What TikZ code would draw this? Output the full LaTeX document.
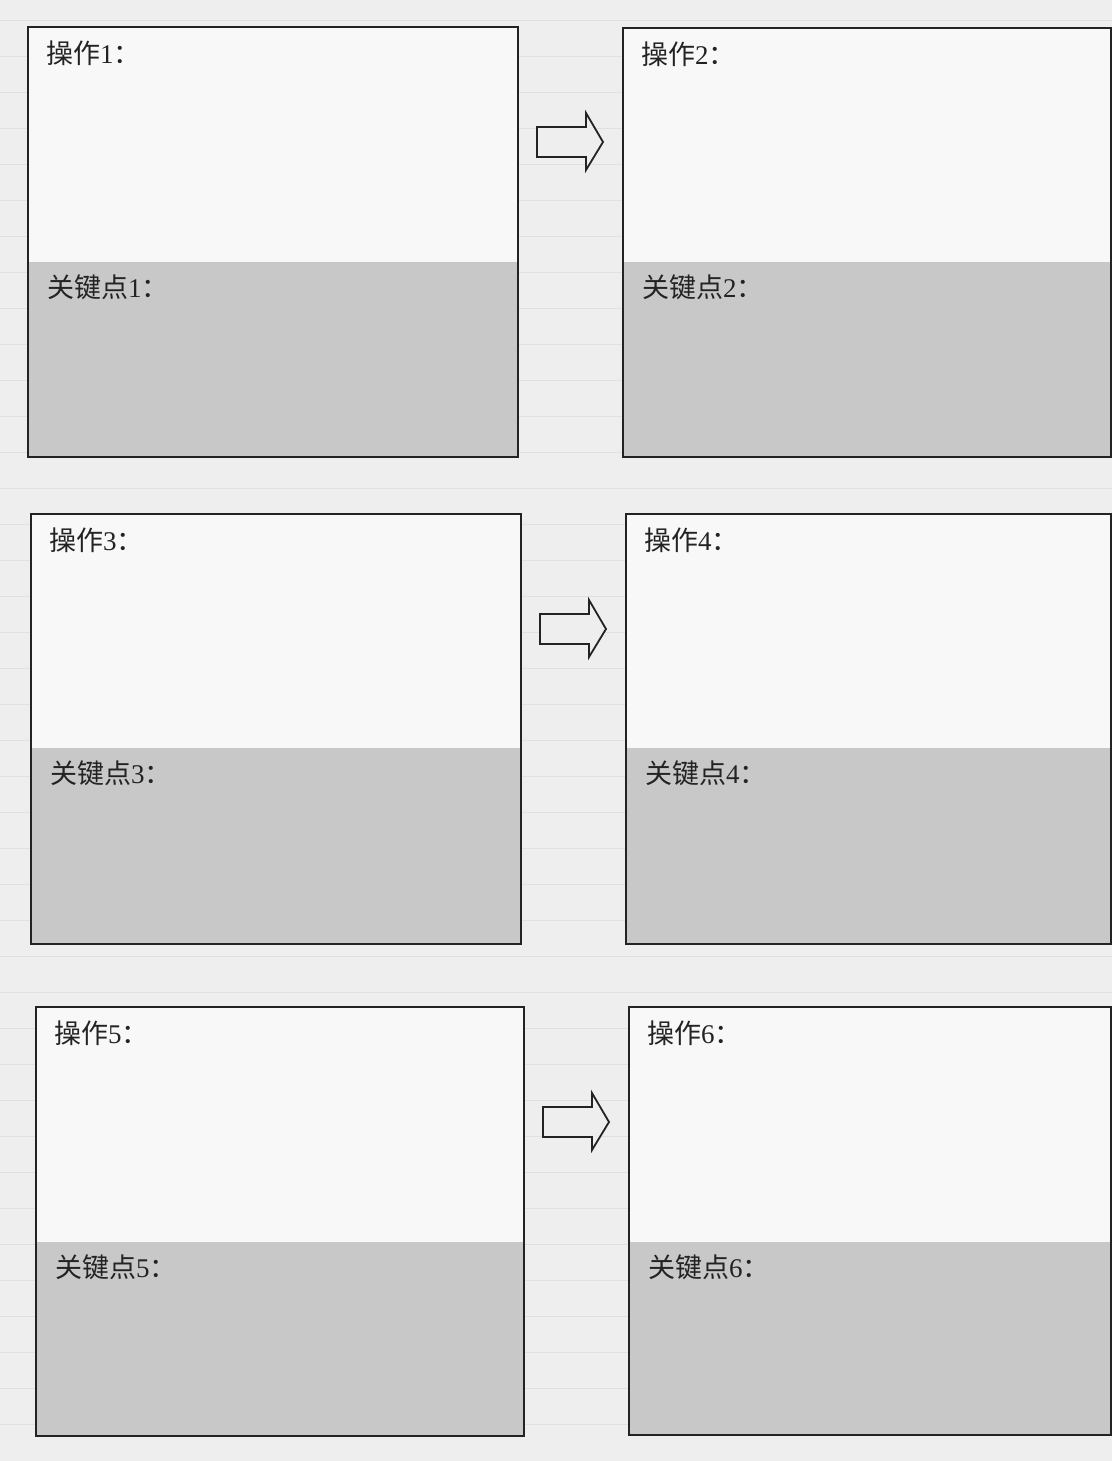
\documentclass[tikz,border=0pt]{standalone}
\usepackage{fontspec}
\setmainfont{Liberation Serif}
\newfontfamily\cjk{Noto Sans CJK SC}
\definecolor{bg}{RGB}{238,238,238}
\definecolor{keygray}{RGB}{200,200,200}
\definecolor{ink}{RGB}{35,35,35}
\definecolor{ghost}{RGB}{224,224,224}
\begin{document}
\begin{tikzpicture}[x=1pt,y=-1pt,
  frame/.style={draw=ink,line width=1.8pt},
  keyfill/.style={fill=keygray},
  lbl/.style={anchor=west,inner sep=0pt,font=\fontsize{27}{27}\selectfont,text=ink},
  blockarrow/.style={draw=ink,line width=1.8pt,fill=bg,line join=miter}]
\fill[bg] (0,0) rectangle (1112,1461);
\useasboundingbox (0,0) rectangle (1112,1461);
% faint ruled lines of the page
\foreach \yy in {20,56,92,128,164,200,236,272,308,344,380,416,452,488,524,560,596,632,668,704,740,776,812,848,884,920,956,992,1028,1064,1100,1136,1172,1208,1244,1280,1316,1352,1388,1424}
  \draw[ghost,line width=0.6pt] (0,\yy) -- (1112,\yy);
% boxes: x1,y1,x2,y2,gray start,index
\newcommand\stepcell[6]{%
  \fill[white!60!bg] (#1,#2) rectangle (#3,#5);
  \fill[keyfill] (#1,#5) rectangle (#3,#4);
  \node[frame,minimum width=#3-#1,minimum height=#4-#2,anchor=north west,inner sep=0pt] (box#6) at (#1,#2) {};
  \node[lbl] (op#6) at (#1+19,#2+27) {{\cjk 操作}#6{\cjk ：}};
  \node[lbl] (key#6) at (#1+20,#5+25) {{\cjk 关键点}#6{\cjk ：}};
}
\stepcell{27}{26}{517}{456}{262}{1}
\stepcell{622}{27}{1110}{456}{262}{2}
\stepcell{30}{513}{520}{943}{748}{3}
\stepcell{625}{513}{1110}{943}{748}{4}
\stepcell{35}{1006}{523}{1435}{1242}{5}
\stepcell{628}{1006}{1110}{1434}{1242}{6}
% block arrows
\draw[blockarrow] (537,127) -- (586,127) -- (586,113) -- (603,142) -- (586,170) -- (586,157) -- (537,157) -- cycle;
\draw[blockarrow] (540,614) -- (589,614) -- (589,600) -- (606,629) -- (589,657) -- (589,644) -- (540,644) -- cycle;
\draw[blockarrow] (543,1107) -- (592,1107) -- (592,1093) -- (609,1122) -- (592,1150) -- (592,1137) -- (543,1137) -- cycle;
\end{tikzpicture}
\end{document}
